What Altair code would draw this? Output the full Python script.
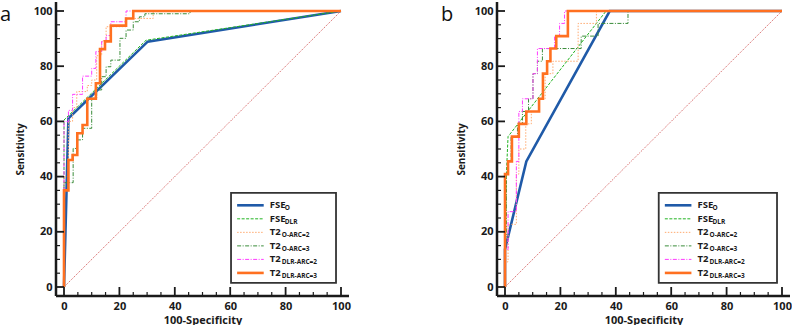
import altair as alt
import pandas as pd

# ---------------- ROC operating points: (100-specificity, sensitivity) ----------------
# panel a
A_FSE_O_X = [0, 1.6, 30.2, 100]
A_FSE_O_Y = [0, 61.1, 88.9, 100]
A_FSE_DLR_X = [0, 0, 29.6, 100]
A_FSE_DLR_Y = [0, 60.5, 89.4, 100]
A_T2_O2_X = [0, 0, 1.6, 3.1, 4.6, 8.4, 10.0, 11.8, 13.6, 15.2, 22.4, 32.2, 100]
A_T2_O2_Y = [0, 40.0, 60.0, 65.0, 70.8, 73.0, 75.0, 83.8, 89.2, 94.3, 97.3, 100, 100]
A_T2_O3_X = [0, 0, 3.3, 4.6, 6.7, 10.0, 11.8, 13.6, 15.2, 16.9, 20.2, 22.4, 25.0, 27.2, 29.2, 45.5, 100]
A_T2_O3_Y = [0, 37.8, 50.2, 53.3, 57.5, 68.4, 71.4, 76.2, 79.8, 82.2, 90.1, 93.1, 96.1, 97.9, 99.0, 100, 100]
A_T2_DLR2_X = [0, 0, 1.6, 3.1, 6.7, 10.0, 11.5, 13.6, 15.2, 16.9, 22.4, 100]
A_T2_DLR2_Y = [0, 59.9, 64.0, 69.8, 76.4, 79.2, 85.3, 88.9, 91.1, 96.1, 100, 100]
A_T2_DLR3_X = [0, 0, 1.6, 3.1, 4.8, 6.7, 8.4, 11.5, 13.0, 14.8, 16.9, 22.4, 25.0, 100]
A_T2_DLR3_Y = [0, 35.0, 46.0, 47.8, 55.7, 58.7, 68.2, 73.8, 86.2, 89.0, 94.7, 97.3, 100, 100]

# panel b
B_FSE_O_X = [0, 0, 7.7, 37.8, 100]
B_FSE_O_Y = [0, 13.6, 45.5, 100, 100]
B_FSE_DLR_X = [0, 0.5, 1.1, 36.5, 100]
B_FSE_DLR_Y = [0, 40.9, 54.5, 100, 100]
B_T2_O2_X = [0, 0, 1.1, 4.1, 5.0, 7.5, 9.5, 12.3, 14.5, 17.3, 26.4, 33.0, 100]
B_T2_O2_Y = [0, 9.1, 22.7, 40.9, 50.0, 59.1, 63.6, 68.2, 77.3, 81.8, 95.5, 100, 100]
B_T2_O3_X = [0, 0, 0.5, 1.1, 2.2, 4.5, 6.3, 8.5, 10.1, 11.7, 13.5, 27.5, 33.6, 44.4, 100]
B_T2_O3_Y = [0, 18.2, 40.9, 45.5, 54.5, 59.1, 63.6, 68.2, 77.3, 81.8, 86.4, 90.9, 95.5, 100, 100]
B_T2_DLR2_X = [0, 0, 1.1, 4.1, 5.0, 6.3, 10.1, 11.7, 17.9, 19.7, 21.5, 100]
B_T2_DLR2_Y = [0, 13.6, 27.3, 45.5, 63.6, 68.2, 77.3, 86.4, 90.9, 95.5, 100, 100]
B_T2_DLR3_X = [0, 0, 1.1, 2.5, 5.0, 7.7, 12.3, 13.7, 15.2, 16.4, 18.5, 22.7, 100]
B_T2_DLR3_Y = [0, 40.9, 45.5, 54.5, 59.1, 63.6, 68.2, 77.3, 81.8, 86.4, 90.9, 100, 100]

SERIES = ["FSE_O", "FSE_DLR", "T2_O2", "T2_O3", "T2_DLR2", "T2_DLR3"]
LEGEND_MAIN = ["FSE", "FSE", "T2", "T2", "T2", "T2"]
LEGEND_SUB = ["O", "DLR", "O-ARC=2", "O-ARC=3", "DLR-ARC=2", "DLR-ARC=3"]
MAJOR_TICKS = [0, 20, 40, 60, 80, 100]
MINOR_TICKS = [5, 10, 15, 25, 30, 35, 45, 50, 55, 65, 70, 75, 85, 90, 95]

PANEL_A = {
    "FSE_O": (A_FSE_O_X, A_FSE_O_Y), "FSE_DLR": (A_FSE_DLR_X, A_FSE_DLR_Y),
    "T2_O2": (A_T2_O2_X, A_T2_O2_Y), "T2_O3": (A_T2_O3_X, A_T2_O3_Y),
    "T2_DLR2": (A_T2_DLR2_X, A_T2_DLR2_Y), "T2_DLR3": (A_T2_DLR3_X, A_T2_DLR3_Y),
}
PANEL_B = {
    "FSE_O": (B_FSE_O_X, B_FSE_O_Y), "FSE_DLR": (B_FSE_DLR_X, B_FSE_DLR_Y),
    "T2_O2": (B_T2_O2_X, B_T2_O2_Y), "T2_O3": (B_T2_O3_X, B_T2_O3_Y),
    "T2_DLR2": (B_T2_DLR2_X, B_T2_DLR2_Y), "T2_DLR3": (B_T2_DLR3_X, B_T2_DLR3_Y),
}

# ---------------- styling ----------------
STYLE = {
    "FSE_O":   dict(color="#1f5aa8", width=2.6, dash=None, interp="linear"),
    "FSE_DLR": dict(color="#22b422", width=1.0, dash=[3, 1.5], interp="linear"),
    "T2_O2":   dict(color="#ffaa70", width=1.0, dash=[1.5, 1.5], interp="step-after"),
    "T2_O3":   dict(color="#3a8c3a", width=1.0, dash=[4, 1.5, 1, 1.5], interp="step-after"),
    "T2_DLR2": dict(color="#ff3cff", width=1.0, dash=[4, 1.5, 1, 1.5], interp="step-after"),
    "T2_DLR3": dict(color="#ff7020", width=2.6, dash=None, interp="step-after"),
}
W, H = 277, 276
FONT = "Open Sans"
INK = "#1a1a1a"
XS = alt.Scale(domain=[0, 100], nice=False, zero=False)
YS = alt.Scale(domain=[0, 100], nice=False, zero=False)

X_AX = alt.Axis(values=MAJOR_TICKS, ticks=False, domain=False, grid=False, offset=9,
                labelFont=FONT, labelFontSize=11, labelFontWeight="bold", labelColor=INK,
                labelPadding=4, labelFlush=False, title="100-Specificity", titleFont=FONT,
                titleFontSize=11, titleFontWeight="bold", titleColor=INK, titlePadding=3)
Y_AX = alt.Axis(values=MAJOR_TICKS, ticks=False, domain=False, grid=False, offset=8,
                labelFont=FONT, labelFontSize=11, labelFontWeight="bold", labelColor=INK,
                labelPadding=4, labelFlush=False, title="Sensitivity", titleFont=FONT,
                titleFontSize=10, titleFontWeight="bold", titleColor=INK, titlePadding=8)


def ex(field):
    return alt.X(f"{field}:Q", scale=XS, axis=X_AX)


def ey(field):
    return alt.Y(f"{field}:Q", scale=YS, axis=Y_AX)


ONE = pd.DataFrame({"k": [0]})
SUB_DX = {"FSE": 15, "T2": 12}


def panel(curves, tag, leg_left):
    layers = []
    # chance diagonal
    layers.append(
        alt.Chart(pd.DataFrame({"x": [0, 100], "y": [0, 100]}))
        .mark_line(color="#cf4f4f", strokeWidth=0.9, strokeDash=[1.2, 1.2])
        .encode(x=ex("x"), y=ey("y"))
    )
    # ROC curves
    for name in SERIES:
        xs, ys = curves[name]
        st = STYLE[name]
        df = pd.DataFrame({"x": xs, "y": ys, "i": list(range(len(xs)))})
        kw = dict(color=st["color"], strokeWidth=st["width"], interpolate=st["interp"])
        if st["dash"]:
            kw["strokeDash"] = st["dash"]
        layers.append(alt.Chart(df).mark_line(**kw).encode(x=ex("x"), y=ey("y"), order="i:Q"))

    # axis lines and inward ticks
    layers.append(alt.Chart(ONE).mark_rule(color=INK, strokeWidth=2.5)
                  .encode(x=alt.value(-8), x2=alt.value(W + 8), y=alt.value(H + 9)))
    layers.append(alt.Chart(ONE).mark_rule(color=INK, strokeWidth=2.5)
                  .encode(x=alt.value(-8), y=alt.value(-9), y2=alt.value(H + 9)))
    maj = pd.DataFrame({"t": MAJOR_TICKS})
    mnr = pd.DataFrame({"t": MINOR_TICKS})
    layers.append(alt.Chart(maj).mark_rule(color=INK, strokeWidth=1.8)
                  .encode(x=ex("t"), y=alt.value(H + 9), y2=alt.value(H)))
    layers.append(alt.Chart(mnr).mark_rule(color=INK, strokeWidth=1.2)
                  .encode(x=ex("t"), y=alt.value(H + 9), y2=alt.value(H + 5)))
    layers.append(alt.Chart(maj).mark_rule(color=INK, strokeWidth=1.8)
                  .encode(y=ey("t"), x=alt.value(-8), x2=alt.value(0)))
    layers.append(alt.Chart(mnr).mark_rule(color=INK, strokeWidth=1.2)
                  .encode(y=ey("t"), x=alt.value(-8), x2=alt.value(-4)))

    # legend box
    box = pd.DataFrame({"x": [leg_left], "x2": [98.2], "y": [1.5], "y2": [34.1]})
    layers.append(alt.Chart(box).mark_rect(fill="white", stroke="#333333", strokeWidth=1.8)
                  .encode(x=ex("x"), x2="x2:Q", y=ey("y"), y2="y2:Q"))
    for i, name in enumerate(SERIES):
        st = STYLE[name]
        ry = 29.6 - i * 4.9
        seg = pd.DataFrame({"x": [leg_left + 2.2], "x2": [leg_left + 11.8], "y": [ry]})
        kw = dict(color=st["color"], strokeWidth=st["width"])
        if st["dash"]:
            kw["strokeDash"] = st["dash"]
        layers.append(alt.Chart(seg).mark_rule(**kw).encode(x=ex("x"), x2="x2:Q", y=ey("y")))
        lab = pd.DataFrame({"x": [leg_left + 14], "y": [ry],
                            "m": [LEGEND_MAIN[i]], "s": [LEGEND_SUB[i]]})
        layers.append(alt.Chart(lab).mark_text(align="left", baseline="middle", font=FONT,
                                               fontSize=9.5, fontWeight="bold", color=INK)
                      .encode(x=ex("x"), y=ey("y"), text="m:N"))
        layers.append(alt.Chart(lab).mark_text(align="left", baseline="middle", font=FONT,
                                               fontSize=6.5, fontWeight="bold", color=INK,
                                               dx=SUB_DX[LEGEND_MAIN[i]], dy=3)
                      .encode(x=ex("x"), y=ey("y"), text="s:N"))

    # panel letter
    layers.append(alt.Chart(pd.DataFrame({"t": [tag]}))
                  .mark_text(align="left", baseline="alphabetic", font=FONT, fontSize=20, color="#111")
                  .encode(text="t:N", x=alt.value(-64), y=alt.value(10)))

    return alt.layer(*layers).properties(width=W, height=H)


chart = (
    alt.hconcat(panel(PANEL_A, "a", 60.3), panel(PANEL_B, "b", 55.5), spacing=90)
    .properties(padding={"left": 0, "top": 0, "right": 0, "bottom": 0}, background="white")
    .configure_view(stroke=None)
)

chart.save("out.html", embed_options={"renderer": "svg", "actions": False})
